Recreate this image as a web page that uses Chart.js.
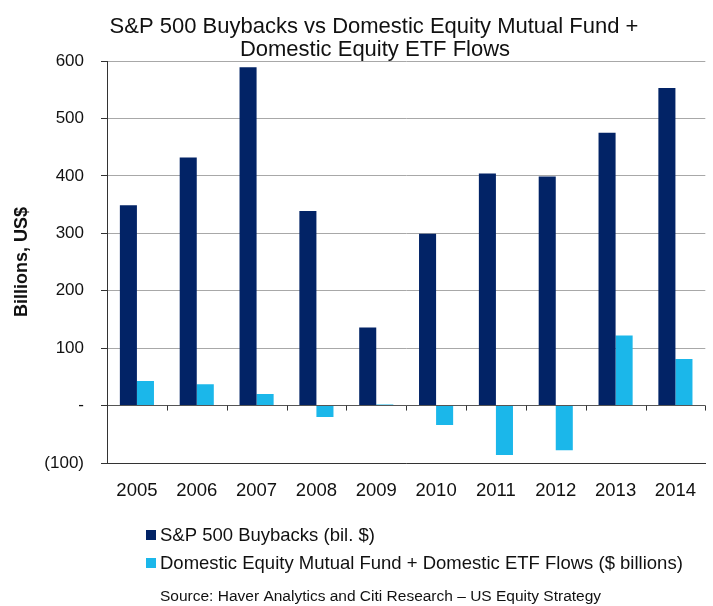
<!DOCTYPE html>
<html>
<head>
<meta charset="utf-8">
<script src="https://cdn.jsdelivr.net/npm/chart.js@4/dist/chart.umd.min.js"></script>
<style>
  html, body { margin: 0; padding: 0; background: #fff; }
  #wrap { position: relative; width: 713px; height: 606px; }
</style>
</head>
<body>
<div id="wrap"><canvas id="buybackChart" width="713" height="606"></canvas></div>
<script>
// values
const years = ['2005', '2006', '2007', '2008', '2009', '2010', '2011', '2012', '2013', '2014'];
const buybacks = [349, 432, 589, 339, 136, 299, 404, 399, 475, 553];
const fundFlows = [43, 37, 20, -20, 2, -34, -86, -78, 122, 81];
const yTickLabels = { '-100': '(100)', '0': '-', '100': '100', '200': '200', '300': '300', '400': '400', '500': '500', '600': '600' };

const titleLines = ['S&P 500 Buybacks vs Domestic Equity Mutual Fund +', 'Domestic Equity ETF Flows'];
const sourceText = 'Source: Haver Analytics and Citi Research \u2013 US Equity Strategy';

const FONT = '"Liberation Sans", Arial, sans-serif';
const NAVY = '#022366';
const CYAN = '#1bb7ea';

// title, legend, source and the small category ticks on the zero line
const decorPlugin = {
    id: 'decor',
    beforeDatasetsDraw(chart) {
        const ctx = chart.ctx;
        const xs = chart.scales.x, ys = chart.scales.y;
        const y0 = ys.getPixelForValue(0);
        const step = (xs.right - xs.left) / years.length;
        ctx.save();
        ctx.strokeStyle = '#333';
        ctx.lineWidth = 1;
        for (let i = 1; i <= years.length; i++) {
            const x = Math.round(xs.left + i * step) + 0.5;
            ctx.beginPath();
            ctx.moveTo(x, y0);
            ctx.lineTo(x, y0 + 5);
            ctx.stroke();
        }
        ctx.restore();
    },
    afterDraw(chart) {
        const ctx = chart.ctx;
        ctx.save();
        ctx.fillStyle = '#111';
        ctx.textBaseline = 'middle';
        ctx.textAlign = 'center';
        ctx.font = '22px ' + FONT;
        ctx.fillText(titleLines[0], 374, 27);
        ctx.fillText(titleLines[1], 375, 50);

        ctx.textAlign = 'left';
        ctx.font = '18.5px ' + FONT;
        const rows = [535, 563];
        chart.data.datasets.forEach((ds, i) => {
            ctx.fillStyle = ds.backgroundColor;
            ctx.fillRect(146, rows[i] - 5, 10, 10);
            ctx.fillStyle = '#111';
            ctx.fillText(ds.label, 160, rows[i] + 1);
        });

        ctx.font = '15.5px ' + FONT;
        ctx.fillText(sourceText, 160, 597);
        ctx.restore();
    }
};

const ctx = document.getElementById('buybackChart').getContext('2d');
new Chart(ctx, {
    type: 'bar',
    data: {
        labels: years,
        datasets: [
            { label: 'S&P 500 Buybacks (bil. $)', data: buybacks, backgroundColor: NAVY },
            { label: 'Domestic Equity Mutual Fund + Domestic ETF Flows ($ billions)', data: fundFlows, backgroundColor: CYAN }
        ]
    },
    options: {
        responsive: false,
        animation: false,
        categoryPercentage: 0.57,
        barPercentage: 1.0,
        layout: { padding: { top: 61, left: 0, right: 0, bottom: 98 } },
        plugins: {
            legend: { display: false },
            title: { display: false },
            tooltip: { enabled: false }
        },
        scales: {
            x: {
                grid: { display: false, drawTicks: false },
                border: { display: true, color: '#333', width: 1 },
                ticks: { color: '#111', font: { family: FONT, size: 18.5 }, padding: 17 },
                afterFit: s => { s.height = 45; }
            },
            y: {
                min: -100, max: 600,
                ticks: {
                    stepSize: 100,
                    color: '#111',
                    padding: 17,
                    font: { family: FONT, size: 17 },
                    callback: v => yTickLabels[String(v)]
                },
                grid: {
                    color: c => c.tick.value === 0 ? '#555' : '#a8a8a8',
                    tickColor: '#333',
                    tickLength: 6
                },
                border: { display: true, color: '#333', width: 1 },
                title: {
                    display: true,
                    text: 'Billions, US$',
                    color: '#111',
                    font: { family: FONT, size: 18, weight: 'bold' },
                    padding: { top: 11, bottom: 0 }
                },
                afterFit: s => { s.width = 107; }
            }
        }
    },
    plugins: [decorPlugin]
});
</script>
</body>
</html>
